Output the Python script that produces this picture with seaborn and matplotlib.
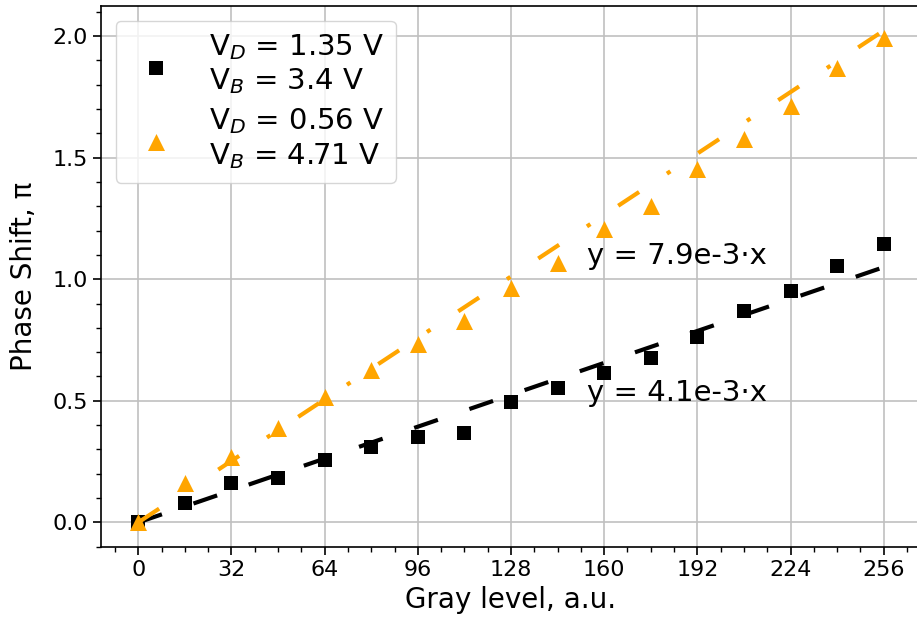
import numpy as np
import pandas as pd
import seaborn as sns
import matplotlib
matplotlib.use("Agg")
import matplotlib.pyplot as plt
from matplotlib.ticker import MultipleLocator

gray_levels = [0, 16, 32, 48, 64, 80, 96, 112, 128, 144, 160, 176, 192, 208, 224, 240, 256]
phase_black = [0.0, 0.081, 0.161, 0.182, 0.255, 0.309, 0.350, 0.368, 0.497, 0.553,
               0.615, 0.678, 0.762, 0.868, 0.951, 1.055, 1.143]
phase_orange = [0.0, 0.164, 0.268, 0.387, 0.515, 0.627, 0.732, 0.828, 0.964, 1.065,
                1.206, 1.303, 1.452, 1.577, 1.713, 1.867, 1.990]
slope_black = 4.1e-3
slope_orange = 7.9e-3
fit_x = [0, 256]
label_black = "V$_D$ = 1.35 V\nV$_B$ = 3.4 V"
label_orange = "V$_D$ = 0.56 V\nV$_B$ = 4.71 V"
fit_text_black = "y = 4.1e-3·x"
fit_text_orange = "y = 7.9e-3·x"
x_ticks = [0, 32, 64, 96, 128, 160, 192, 224, 256]

sns.set_style("ticks")
plt.rcParams['font.family'] = ['DejaVu Sans']
plt.rcParams['text.color'] = 'black'
plt.rcParams['axes.labelcolor'] = 'black'
plt.rcParams['xtick.color'] = 'black'
plt.rcParams['ytick.color'] = 'black'

df = pd.DataFrame({"x": gray_levels, "black": phase_black, "orange": phase_orange})
fit_df = pd.DataFrame({"x": fit_x,
                       "black": [slope_black * v for v in fit_x],
                       "orange": [slope_orange * v for v in fit_x]})

fig = plt.figure(figsize=(9.17, 6.28), dpi=100)
ax = fig.add_axes([101 / 917, 81 / 628, 820 / 917, 541 / 628])

sns.scatterplot(data=df, x="x", y="black", marker="s", s=88, color="black",
                linewidth=0, ax=ax, label=label_black, zorder=3)
sns.lineplot(data=fit_df, x="x", y="black", color="black", lw=3, ax=ax,
             zorder=3.5, legend=False).lines[-1].set_dashes((6, 8))
sns.scatterplot(data=df, x="x", y="orange", marker="^", s=150, color="orange",
                linewidth=0, ax=ax, label=label_orange, zorder=4)
l2 = sns.lineplot(data=fit_df, x="x", y="orange", color="orange", lw=3, ax=ax,
                  zorder=4.5, legend=False).lines[-1]
l2.set_dashes((6, 8, 1, 8))

ax.set_xlim(-12.8, 268.8)
ax.set_ylim(-0.1011, 2.1235)
ax.set_xticks(x_ticks)
ax.xaxis.set_minor_locator(MultipleLocator(8))
ax.yaxis.set_major_locator(MultipleLocator(0.5))
ax.yaxis.set_minor_locator(MultipleLocator(0.1))
ax.tick_params(axis="both", which="major", labelsize=16, length=6, width=1.2,
               direction="out", color="black", labelcolor="black")
ax.tick_params(axis="both", which="minor", length=3.5, width=1.0, direction="out",
               color="black")
ax.grid(True, which="major", color="#c0c0c0", lw=1.2)
ax.set_axisbelow(True)
for s in ax.spines.values():
    s.set_color("black")
    s.set_linewidth(1.2)

ax.set_xlabel("Gray level, a.u.", fontsize=20, labelpad=4, color="black")
ax.set_ylabel("Phase Shift, π", fontsize=20, labelpad=10, color="black")

ax.text(154, 1.097, fit_text_orange, fontsize=21, va="center", ha="left", color="black")
ax.text(154, 0.534, fit_text_black, fontsize=21, va="center", ha="left", color="black")

leg = ax.legend(loc="upper left", fontsize=21, frameon=True, framealpha=0.8,
                edgecolor="#cccccc", fancybox=True, labelspacing=0.35)
for t in leg.get_texts():
    t.set_color("black")

fig.savefig("out.png", dpi=100)
